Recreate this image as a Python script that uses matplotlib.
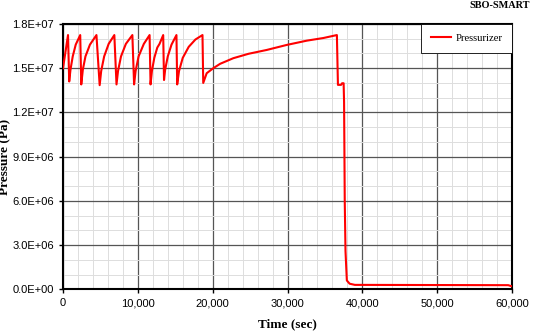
import matplotlib
matplotlib.use("Agg")
import matplotlib.pyplot as plt
from matplotlib.ticker import MultipleLocator, FuncFormatter

# Time (s) and pressurizer pressure (Pa)
time_s = [0, 670, 830, 1000, 1300, 1700, 2300, 2440, 2650, 3000, 3600,
          4470, 4900, 5100, 5500, 6100, 6860, 7150, 7350, 7750, 8400,
          9270, 9500, 9700, 10100, 10800, 11570, 11700, 11880, 12200,
          12600, 12900, 13390, 13500, 13650, 14000, 14500, 15160, 15260,
          15500, 16000, 16800, 17700, 18640, 18740, 19200, 20080, 21000,
          22760, 24800, 27230, 29900, 32580, 34800, 36600, 36740, 37150,
          37300, 37500, 37560, 37650, 37750, 37930, 38300, 39000, 59500,
          60000]
pressure_pa = [1.50e7, 1.725e7, 1.41e7, 1.49e7, 1.58e7, 1.66e7, 1.725e7,
               1.39e7, 1.49e7, 1.58e7, 1.66e7, 1.725e7, 1.385e7, 1.48e7,
               1.58e7, 1.665e7, 1.725e7, 1.39e7, 1.48e7, 1.58e7, 1.665e7,
               1.725e7, 1.39e7, 1.48e7, 1.58e7, 1.665e7, 1.725e7, 1.39e7,
               1.48e7, 1.57e7, 1.64e7, 1.665e7, 1.725e7, 1.42e7, 1.49e7,
               1.58e7, 1.66e7, 1.725e7, 1.39e7, 1.48e7, 1.57e7, 1.645e7,
               1.695e7, 1.725e7, 1.40e7, 1.466e7, 1.50e7, 1.53e7, 1.568e7,
               1.598e7, 1.624e7, 1.658e7, 1.687e7, 1.705e7, 1.725e7,
               1.387e7, 1.387e7, 1.398e7, 1.398e7, 1.27e7, 6.0e6, 2.6e6,
               6.0e5, 3.8e5, 3.0e5, 2.8e5, 2.0e5]

series_label = "Pressurizer"
title_text = "SBO-SMART"
x_label = "Time (sec)"
y_label = "Pressure (Pa)"

fig = plt.figure(figsize=(5.33, 3.34), dpi=100)
ax = fig.add_axes([63/533, 1-289.3/334, (512-63)/533, (289.3-24)/334])

ax.plot(time_s, pressure_pa, color="red", lw=1.5, label=series_label, zorder=3)

ax.set_xlim(0, 60000)
ax.set_ylim(0, 1.8e7)
ax.xaxis.set_major_locator(MultipleLocator(10000))
ax.xaxis.set_minor_locator(MultipleLocator(2000))
ax.yaxis.set_major_locator(MultipleLocator(3e6))
ax.yaxis.set_minor_locator(MultipleLocator(1e6))
ax.xaxis.set_major_formatter(FuncFormatter(lambda v, p: f"{v:,.0f}"))
ax.yaxis.set_major_formatter(FuncFormatter(lambda v, p: f"{v:.1E}"))

ax.grid(which="major", color="#555555", lw=0.9, zorder=1)
ax.grid(which="minor", color="#dddddd", lw=0.7, zorder=0)
ax.set_axisbelow(True)

ax.tick_params(which="major", direction="out", length=3, width=1, pad=3.5,
               labelsize=8, colors="black")
ax.tick_params(which="minor", length=0)
for lab in ax.get_xticklabels() + ax.get_yticklabels():
    lab.set_fontfamily("Liberation Sans")

for s in ax.spines.values():
    s.set_linewidth(1.5)
    s.set_color("black")

ax.set_xlabel(x_label, fontfamily="Liberation Serif", fontweight="bold",
              fontsize=9.5, labelpad=7)
ax.set_ylabel(y_label, fontfamily="Liberation Serif", fontweight="bold",
              fontsize=9.5, labelpad=1)

leg = ax.legend(loc="upper right", prop={"family": "Liberation Serif", "size": 7.7},
                fancybox=False, framealpha=1, edgecolor="black",
                handlelength=1.9, borderpad=0.9, handletextpad=0.4,
                borderaxespad=0.0)
leg.get_frame().set_linewidth(0.6)

fig.text(530/533, 1-6/334, title_text, ha="right", va="center",
         fontfamily="Liberation Serif", fontweight="bold", fontsize=7.4)

fig.savefig("out.png", dpi=100)
